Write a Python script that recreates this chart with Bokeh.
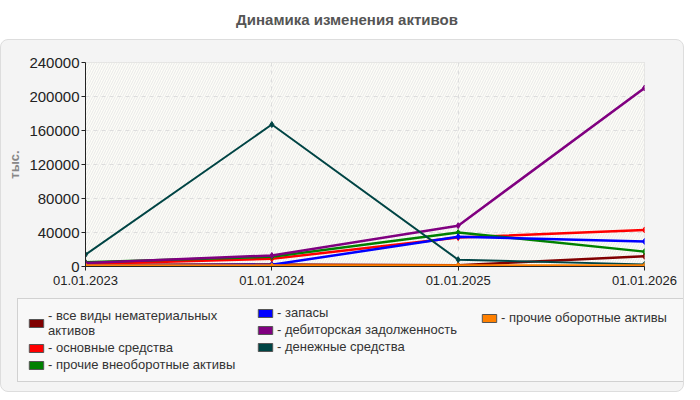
from bokeh.plotting import figure
from bokeh.layouts import column
from bokeh.models import (Div, Range1d, FixedTicker, NumeralTickFormatter,
                          BoxAnnotation, Legend, LegendItem)
from bokeh.embed import file_html
from bokeh.resources import INLINE

# values in thousands
dates = ["01.01.2023", "01.01.2024", "01.01.2025", "01.01.2026"]
intangible = [2000, 2500, 1500, 12000]
fixed_assets = [3000, 9000, 34000, 43000]
other_noncurrent = [5000, 11500, 40000, 17500]
inventories = [1000, 2000, 35000, 29500]
receivables = [4000, 13000, 48000, 210000]
cash = [14000, 167000, 8000, 2500]
other_current = [800, 800, 800, 800]
y_ticks = [0, 40000, 80000, 120000, 160000, 200000, 240000]

names = ["все виды нематериальных\nактивов", "основные средства",
         "прочие внеоборотные активы", "запасы", "дебиторская задолженность",
         "денежные средства", "прочие оборотные активы"]
colors = ["#800000", "#ff0000", "#008000", "#0000ff", "#800080", "#004444", "#ff8000"]
series = [intangible, fixed_assets, other_noncurrent, inventories,
          receivables, cash, other_current]

FONT = "Liberation Sans"
xs = list(range(len(dates)))

p = figure(frame_width=559, frame_height=204, min_border_left=84, min_border_right=39,
           min_border_top=22, min_border_bottom=32,
           x_range=Range1d(0, len(dates) - 1), y_range=Range1d(0, 240000),
           toolbar_location=None, output_backend="svg")
p.border_fill_color = None
p.background_fill_color = "#fdfdf7"
p.outline_line_color = "#dddddd"

# hatched plot background
p.add_layout(BoxAnnotation(fill_color="#fdfdf7", fill_alpha=1, line_color=None,
                           hatch_pattern="right_diagonal_line", hatch_color="#e9e9e9",
                           hatch_scale=5, hatch_weight=1, level="image"))

p.xaxis.ticker = FixedTicker(ticks=xs)
p.xaxis.major_label_overrides = {i: d for i, d in enumerate(dates)}
p.yaxis.ticker = FixedTicker(ticks=y_ticks)
p.yaxis.formatter = NumeralTickFormatter(format="0")
p.xgrid.ticker = FixedTicker(ticks=xs)
p.ygrid.ticker = FixedTicker(ticks=y_ticks)
for g in (p.xgrid, p.ygrid):
    g.grid_line_color = "#dddddd"
    g.grid_line_dash = "4 4"

for ax in (p.xaxis, p.yaxis):
    ax.axis_line_color = "#222222"
    ax.major_tick_line_color = "#222222"
    ax.minor_tick_line_color = None
    ax.major_tick_in = 0
    ax.major_tick_out = 4
    ax.major_label_text_font = FONT
    ax.major_label_text_color = "#222222"
p.xaxis.major_label_text_font_size = "13px"
p.yaxis.major_label_text_font_size = "15px"
p.xaxis.major_label_standoff = 5
p.yaxis.major_label_standoff = 2
p.yaxis.axis_label = "тыс."
p.yaxis.axis_label_text_font = FONT
p.yaxis.axis_label_text_font_size = "13px"
p.yaxis.axis_label_text_font_style = "bold"
p.yaxis.axis_label_text_color = "#888888"
p.yaxis.axis_label_standoff = 4

for name, color, vals in zip(names, colors, series):
    w = 2 if color == "#004444" else 2.5
    if color == "#ff8000":
        w = 3
    p.line(xs, vals, line_color=color, line_width=w)
    p.scatter(xs, vals, marker="diamond", size=6, fill_color=color, line_color=color)

# legend lives in its own figure under the chart
lp = figure(frame_width=682, frame_height=93, min_border=0,
            x_axis_location=None, y_axis_location=None,
            toolbar_location=None, output_backend="svg")
lp.border_fill_color = None
lp.background_fill_color = None
lp.outline_line_color = None
lp.grid.visible = False

items = []
for name, color in zip(names, colors):
    # hidden one-point quad, only used to paint the legend swatch
    swatch = lp.quad(left=[0], right=[0], top=[0], bottom=[0], fill_color=color,
                     line_color="#555555", line_width=1, visible=False)
    items.append(LegendItem(label="- " + name, renderers=[swatch]))

common = dict(orientation="vertical", label_text_font=FONT, label_text_font_size="13px",
              label_text_color="#333333", label_text_line_height=1.0,
              glyph_width=18, glyph_height=10, label_standoff=3, spacing=2, margin=0)

# first column also carries the framed legend box
box_legend = Legend(items=items[0:3], location=(16, 9), padding=9, label_width=627,
                    background_fill_color="#f8f8f8", background_fill_alpha=1,
                    border_line_color="#aaaaaa", border_line_width=1, **common)
lp.add_layout(box_legend, "center")

# the other columns are laid out on their own, as in the original
for col_items, loc in ((items[3:6], (255, 37)), (items[6:7], (479, 66))):
    lg = Legend(items=col_items, location=loc, padding=0,
                background_fill_alpha=0, border_line_color=None, **common)
    lp.add_layout(lg, "center")

title = Div(text="Динамика изменения активов", width=684, height=29,
            styles={"text-align": "center", "font-weight": "bold", "font-size": "15px",
                    "color": "#555555", "font-family": FONT, "line-height": "30px"})
panel = column(p, lp, styles={"background-color": "#f4f4f4", "border": "1px solid #dddddd",
                              "border-radius": "8px"})
layout = column(title, panel)

open("out.html", "w").write(file_html(layout, INLINE))
